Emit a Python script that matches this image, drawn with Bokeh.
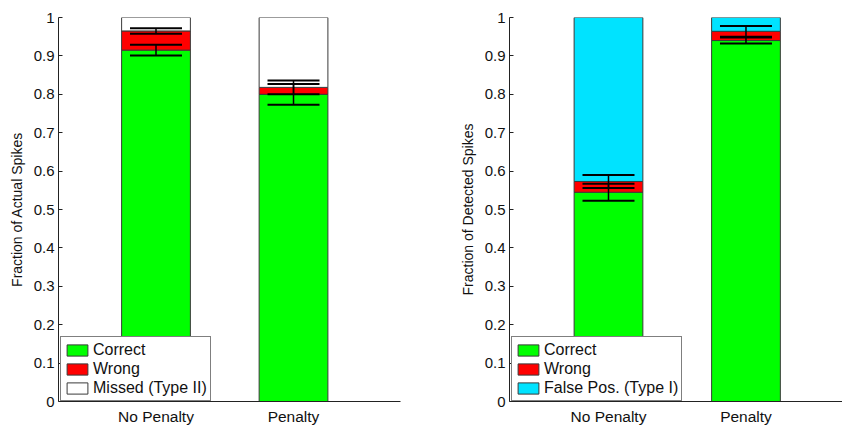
from bokeh.plotting import figure
from bokeh.layouts import row
from bokeh.models import (ColumnDataSource, Range1d, FixedTicker, CustomJSTickFormatter,
                          Legend, LegendItem, Whisker, TeeHead)
from bokeh.embed import file_html
from bokeh.resources import INLINE

# ---- data ----
conditions = ["No Penalty", "Penalty"]

# Left panel: fraction of actual spikes
correct_actual = [0.915, 0.800]
wrong_actual = [0.050, 0.018]
missed_actual = [0.035, 0.182]
correct_err_actual = [0.014, 0.027]
wrong_err_actual = [0.007, 0.018]

# Right panel: fraction of detected spikes
correct_det = [0.545, 0.940]
wrong_det = [0.028, 0.024]
falsepos_det = [0.427, 0.036]
correct_err_det = [0.022, 0.008]
wrong_err_det = [0.017, 0.014]

y_ticks = [0, 0.1, 0.2, 0.3, 0.4, 0.5, 0.6, 0.7, 0.8, 0.9, 1.0]

GREEN = "#00FF00"
RED = "#FF0000"
WHITE = "#FFFFFF"
CYAN = "#00E3FF"
FONT = "Liberation Sans"


def make_panel(ylabel, correct, wrong, third, third_label, third_color,
               cerr, werr, width, left_border, right_border, x_range):
    xs = [i + 1 for i in range(len(conditions))]
    src = ColumnDataSource(dict(x=xs, correct=correct, wrong=wrong, third=third))
    p = figure(width=width, height=428, output_backend="svg", toolbar_location=None,
               x_range=x_range, y_range=Range1d(0, 1),
               min_border_left=left_border, min_border_right=right_border,
               min_border_top=17, min_border_bottom=27)
    p.outline_line_color = None
    p.xgrid.visible = False
    p.ygrid.visible = False
    p.background_fill_color = "white"
    p.border_fill_color = "white"

    rs = p.vbar_stack(["correct", "wrong", "third"], x="x", width=0.5, source=src,
                      fill_color=[GREEN, RED, third_color],
                      line_color="#3a3a3a", line_width=1)

    # error bars at tops of the correct and wrong segments
    ctop = [c for c in correct]
    wtop = [c + w for c, w in zip(correct, wrong)]
    esrc = ColumnDataSource(dict(
        x=xs + xs,
        upper=[t + e for t, e in zip(ctop, cerr)] + [t + e for t, e in zip(wtop, werr)],
        lower=[t - e for t, e in zip(ctop, cerr)] + [t - e for t, e in zip(wtop, werr)],
    ))
    wh = Whisker(source=esrc, base="x", upper="upper", lower="lower", dimension="height",
                 line_color="black", line_width=1.5, level="annotation",
                 upper_head=TeeHead(size=52, line_color="black", line_width=2),
                 lower_head=TeeHead(size=52, line_color="black", line_width=2))
    p.add_layout(wh)

    # axes
    p.xaxis.ticker = FixedTicker(ticks=xs)
    p.xaxis.major_label_overrides = {x: c for x, c in zip(xs, conditions)}
    p.xaxis.major_tick_in = 0
    p.xaxis.major_tick_out = 0
    p.xaxis.minor_tick_line_color = None
    p.xaxis.major_label_standoff = 6
    p.yaxis.ticker = FixedTicker(ticks=y_ticks)
    p.yaxis.formatter = CustomJSTickFormatter(code="return String(Math.round(tick*10)/10);")
    p.yaxis.major_tick_in = 4
    p.yaxis.major_tick_out = 0
    p.yaxis.minor_tick_line_color = None
    p.yaxis.major_label_standoff = 4
    p.yaxis.axis_label = ylabel
    p.yaxis.axis_label_standoff = 6
    for ax in (p.xaxis, p.yaxis):
        ax.axis_line_color = "#222222"
        ax.major_tick_line_color = "#222222"
        ax.major_label_text_font = FONT
        ax.major_label_text_font_size = "15px"
        ax.major_label_text_color = "#111111"
        ax.axis_label_text_font = FONT
        ax.axis_label_text_font_size = "14px"
        ax.axis_label_text_font_style = "normal"
        ax.axis_label_text_color = "#111111"
    p.xaxis.major_label_text_font_size = "15.5px"

    legend = Legend(items=[LegendItem(label="Correct", renderers=[rs[0]]),
                           LegendItem(label="Wrong", renderers=[rs[1]]),
                           LegendItem(label=third_label, renderers=[rs[2]])],
                    location=(2, 0), margin=0, padding=3, spacing=0,
                    label_height=19, glyph_height=14, glyph_width=26,
                    label_standoff=3,
                    label_text_font=FONT, label_text_font_size="16px",
                    label_text_color="#111111",
                    border_line_color="black", border_line_width=1.5,
                    background_fill_color="white", background_fill_alpha=1.0)
    p.add_layout(legend, "center")
    return p


p1 = make_panel("Fraction of Actual Spikes", correct_actual, wrong_actual, missed_actual,
                "Missed (Type II)", WHITE, correct_err_actual, wrong_err_actual,
                width=450, left_border=58, right_border=50, x_range=Range1d(0.291, 2.778))
p2 = make_panel("Fraction of Detected Spikes", correct_det, wrong_det, falsepos_det,
                "False Pos. (Type I)", CYAN, correct_err_det, wrong_err_det,
                width=392, left_border=59, right_border=0, x_range=Range1d(0.28, 2.702))

layout = row(p1, p2)
open("out.html", "w").write(file_html(layout, INLINE))
